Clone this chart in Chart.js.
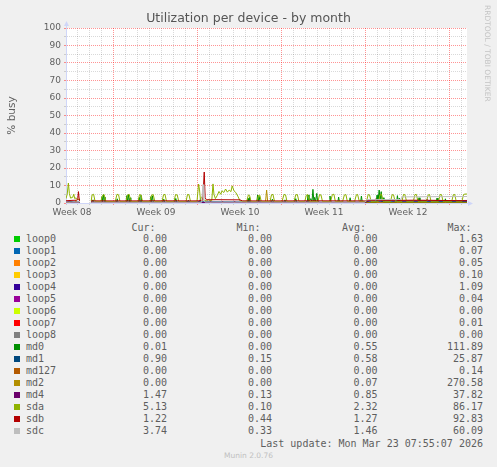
<!DOCTYPE html>
<html><head><meta charset="utf-8">
<script src="https://cdn.jsdelivr.net/npm/chart.js@4.4.1/dist/chart.umd.min.js"></script>
<style>
html,body{margin:0;padding:0;background:#f0f0f0;}
#wrap{position:relative;width:497px;height:467px;overflow:hidden;background:#f0f0f0;}
#c{position:absolute;left:0;top:0;}
.t{position:absolute;font-family:"DejaVu Sans Mono",monospace;font-size:10px;color:#5e5e5e;line-height:12px;white-space:pre;}
.sw{position:absolute;width:6px;height:6px;}
#rrd{position:absolute;left:483px;top:5px;writing-mode:vertical-rl;font-family:"DejaVu Sans",sans-serif;font-size:7.5px;color:#c4c4c4;line-height:9px;white-space:nowrap;}
#foot{position:absolute;left:0;width:497px;text-align:center;top:451px;font-family:"DejaVu Sans",sans-serif;font-size:7.5px;line-height:10px;color:#c0c0c0;}
</style></head><body>
<div id="wrap">
<canvas id="c" width="497" height="222"></canvas>
<div id="rrd">RRDTOOL / TOBI OETIKER</div>
<div id="foot">Munin 2.0.76</div>
</div>
<script>
// ---- text ----
const chartTitle = 'Utilization per device - by month';
const yTitle = '% busy';
const lastUpdate = 'Last update: Mon Mar 23 07:55:07 2026';
const statHeaders = ['Cur:', 'Min:', 'Avg:', 'Max:'];

// ---- x axis (days from left edge of graph) ----
const weekLabels = ['Week 08', 'Week 09', 'Week 10', 'Week 11', 'Week 12'];
const weekLabelDays = [0.5, 7.5, 14.5, 21.5, 28.5];
const weekStartDays = [4, 11, 18, 25, 32];
const dayTicks = [0,1,2,3,4,5,6,7,8,9,10,11,12,13,14,15,16,17,18,19,20,21,22,23,24,25,26,27,28,29,30,31,32,33];
const xMax = 33.42;
const yTicks = [0,5,10,15,20,25,30,35,40,45,50,55,60,65,70,75,80,85,90,95,100];

// ---- series ----
const seriesNames = ['loop0','loop1','loop2','loop3','loop4','loop5','loop6','loop7','loop8','md0','md1','md127','md2','md4','sda','sdb','sdc'];
const seriesColors = ['#00CC00','#0066B3','#FF8000','#FFCC00','#330099','#990099','#CCFF00','#FF0000','#808080','#008F00','#00487D','#B35A00','#B38F00','#6B006B','#8FB300','#B30000','#BEBEBE'];
const curVals = ['0.00','0.00','0.00','0.00','0.00','0.00','0.00','0.00','0.00','0.01','0.90','0.00','0.00','1.47','5.13','1.22','3.74'];
const minVals = ['0.00','0.00','0.00','0.00','0.00','0.00','0.00','0.00','0.00','0.00','0.15','0.00','0.00','0.13','0.10','0.44','0.33'];
const avgVals = ['0.00','0.00','0.00','0.00','0.00','0.00','0.00','0.00','0.00','0.55','0.58','0.00','0.07','0.85','2.32','1.27','1.46'];
const maxVals = ['1.63','0.07','0.05','0.10','1.09','0.04','0.00','0.01','0.00','111.89','25.87','0.14','270.58','37.82','86.17','92.83','60.09'];

// [day, % busy]; null = no data
const zeroLine = [[0,0],[1.12,0],[1.13,null],[2.1,0],[33.42,0]];

const md0 = [[0,0.3],[0.4,0.8],[0.6,0.3],[1.12,0.3],[1.13,null],
 [2.1,0.2],[2.25,1.8],[2.35,0.2],
 [2.95,0.2],[3.0,3.6],[3.05,0.6],[3.12,4.8],[3.18,1.0],[3.25,3.4],[3.32,0.2],
 [4.2,0.2],[4.27,2.4],[4.34,0.2],
 [5.0,0.2],[5.07,4.2],[5.13,1.0],[5.2,4.9],[5.27,0.6],[5.34,3.0],[5.4,0.2],
 [6.05,0.2],[6.12,3.2],[6.18,0.6],[6.25,4.4],[6.32,0.2],
 [7.0,0.2],[7.07,3.6],[7.13,0.6],[7.2,4.1],[7.28,0.2],
 [8.05,0.2],[8.15,2.2],[8.25,0.2],
 [9.05,0.2],[9.15,2.6],[9.25,0.2],
 [10.1,0.2],[10.2,1.6],[10.3,0.2],
 [11.1,0.2],[11.2,2.0],[11.3,0.2],
 [15.1,0.2],[15.17,2.6],[15.24,0.6],[15.3,3.2],[15.38,0.2],
 [15.9,0.2],[15.97,4.6],[16.04,0.8],[16.1,3.8],[16.18,0.2],
 [17.1,0.2],[17.2,2.2],[17.3,0.2],
 [18.15,0.2],[18.25,1.8],[18.35,0.2],
 [19.05,0.2],[19.15,2.5],[19.25,0.2],
 [20.1,0.2],[20.17,4.6],[20.25,0.8],[20.4,2.5],[20.5,0.6],[20.58,7.8],[20.66,1.0],[20.72,3.2],[20.8,0.6],[20.9,5.5],[20.98,0.2],
 [21.95,0.2],[22.0,4.0],[22.08,0.2],
 [22.65,0.2],[22.72,3.4],[22.8,0.2],
 [23.6,0.2],[23.68,3.0],[23.76,0.2],
 [24.55,0.2],[24.62,4.0],[24.7,0.2],
 [25.85,0.2],[25.92,4.5],[26.0,1.0],[26.1,7.4],[26.18,2.0],[26.27,6.5],[26.35,0.5],[26.42,3.0],[26.5,0.2],
 [27.55,0.2],[27.62,4.2],[27.7,0.5],[27.78,2.8],[27.85,0.2],
 [29.35,0.2],[29.42,3.0],[29.5,0.2],
 [30.85,0.2],[30.92,2.8],[31.0,0.2],
 [31.55,0.2],[31.62,2.4],[31.7,0.2],
 [33.42,0.2]];

const md1 = [[0,0.5],[0.5,0.6],[1.12,0.5],[1.13,null],[2.1,0.5],[8,0.5],[11.5,0.7],[14.5,0.6],[20,0.5],[24.9,0.5],[25.1,1.0],[29,0.95],[33.42,0.9]];

const md2 = [[0,0],[0.75,0],[0.82,1.5],[0.9,0],[1.12,0],[1.13,null],[2.1,0],[16.62,0],[16.72,7.4],[16.82,0],[33.42,0]];

const md4 = [[0,0.4],[0.3,1.0],[0.4,0.4],[1.12,0.4],[1.13,null],
 [2.1,0.3],[2.15,1.1],[2.22,0.3],[3.0,0.3],[3.05,1.0],[3.12,0.3],
 [4.1,0.3],[4.15,1.1],[4.22,0.3],[5.0,0.3],[5.05,1.0],[5.12,0.3],
 [6.0,0.3],[6.05,1.1],[6.12,0.3],[7.0,0.3],[7.05,1.0],[7.12,0.3],
 [8.0,0.3],[8.05,1.1],[8.12,0.3],[9.0,0.3],[9.05,1.0],[9.12,0.3],
 [10.0,0.3],[10.05,1.1],[10.12,0.3],[11.0,0.3],[11.05,1.0],[11.12,0.3],
 [12.0,0.3],[12.05,1.1],[12.12,0.3],[13.0,0.3],[13.05,1.0],[13.12,0.3],
 [14.0,0.3],[14.05,1.1],[14.12,0.3],[15.0,0.3],[15.05,1.0],[15.12,0.3],
 [16.0,0.3],[16.05,1.1],[16.12,0.3],[17.0,0.3],[17.05,1.0],[17.12,0.3],
 [18.0,0.3],[18.05,1.1],[18.12,0.3],[19.0,0.3],[19.05,1.0],[19.12,0.3],
 [20.0,0.3],[20.05,1.1],[20.12,0.3],[21.0,0.3],[21.05,1.0],[21.12,0.3],
 [22.0,0.3],[22.05,1.1],[22.12,0.3],[23.0,0.3],[23.05,1.0],[23.12,0.3],
 [24.0,0.3],[24.05,1.1],[24.12,0.3],
 [25.0,0.5],[25.3,1.3],[27.0,1.2],[27.1,2.0],[27.2,1.2],[30.0,1.3],[30.1,2.1],[30.2,1.3],[33.42,1.45]];

const sda = [[0,2.5],[0.1,5.0],[0.2,11.4],[0.28,5.5],[0.38,2.8],[0.55,3.2],[0.65,5.0],[0.72,2.6],[0.85,2.9],[1.0,1.8],[1.12,2.4],[1.13,null],
 [2.1,1.0],[2.17,4.6],[2.3,5.0],[2.42,1.0],
 [2.9,0.9],[3.05,4.4],[3.18,4.8],[3.32,0.9],
 [4.1,0.8],[4.25,5.0],[4.38,4.7],[4.5,0.8],
 [5.0,0.8],[5.13,4.6],[5.27,4.9],[5.4,0.8],
 [6.0,0.8],[6.13,4.8],[6.25,4.6],[6.38,0.8],
 [7.0,0.8],[7.13,4.5],[7.27,4.8],[7.4,0.8],
 [8.0,0.8],[8.13,4.7],[8.25,4.9],[8.38,0.8],
 [9.0,0.8],[9.13,4.8],[9.27,4.6],[9.4,0.8],
 [10.0,0.8],[10.13,4.9],[10.25,4.7],[10.38,0.8],
 [10.92,1.0],[11.05,10.8],[11.13,7.5],[11.2,2.0],[11.3,3.5],[11.42,2.0],[11.55,1.5],[11.7,1.2],[11.85,2.0],[12.0,1.5],
 [12.15,1.5],[12.25,10.9],[12.33,5.0],[12.45,2.5],[12.6,4.2],[12.75,6.6],[12.9,5.0],[13.0,7.0],[13.15,6.0],[13.3,8.0],[13.45,6.2],[13.6,7.4],[13.75,6.5],[13.85,9.8],[14.0,7.0],[14.15,6.0],[14.35,3.5],[14.5,1.2],
 [15.05,0.8],[15.2,4.6],[15.3,4.3],[15.42,0.8],
 [15.9,0.8],[16.03,4.2],[16.15,4.5],[16.28,0.8],
 [17.0,0.8],[17.13,4.7],[17.25,4.9],[17.38,0.8],
 [18.0,0.8],[18.17,4.9],[18.3,4.6],[18.42,0.8],
 [19.0,0.8],[19.15,4.7],[19.28,4.8],[19.42,0.8],
 [19.9,0.8],[20.03,4.5],[20.15,4.8],[20.3,0.8],
 [21.0,0.8],[21.13,4.8],[21.25,4.6],[21.38,0.8],
 [22.05,0.8],[22.2,4.8],[22.33,5.0],[22.45,0.8],
 [23.05,0.8],[23.2,4.6],[23.33,4.8],[23.45,0.8],
 [24.05,0.8],[24.2,4.7],[24.3,4.9],[24.45,0.8],
 [25.05,1.0],[25.18,4.8],[25.3,4.6],[25.42,1.0],
 [26.05,1.0],[26.18,4.7],[26.3,5.0],[26.42,1.0],
 [27.05,1.0],[27.18,4.8],[27.3,4.6],[27.42,1.0],
 [28.0,1.0],[28.13,4.9],[28.25,4.7],[28.38,1.0],
 [28.95,1.0],[29.08,4.8],[29.2,4.9],[29.33,1.0],
 [30.05,1.0],[30.18,4.6],[30.3,4.8],[30.42,1.0],
 [31.05,1.0],[31.18,4.9],[31.3,4.7],[31.42,1.0],
 [32.15,1.0],[32.28,4.7],[32.4,4.9],[32.52,1.0],
 [33.0,1.0],[33.13,4.8],[33.25,5.1],[33.42,5.1]];

const sdb = [[0,1.3],[0.5,1.5],[0.9,1.6],[0.98,2.5],[1.04,6.5],[1.1,2.2],[1.12,1.4],[1.13,null],
 [2.1,1.2],[5,1.2],[8,1.25],[11.0,1.2],[11.4,1.6],[11.52,17.7],[11.6,3.0],[11.7,1.8],[12.5,1.9],[14.5,1.8],[14.7,1.2],[18,1.2],[21,1.25],[24.9,1.2],
 [25.1,1.5],[25.75,1.6],[25.82,2.4],[25.9,1.6],[27.0,1.5],[27.45,1.6],[27.52,2.2],[27.6,1.5],[29,1.6],[31,1.5],[33.42,1.25]];

const sdc = [[0,0.5],[1.12,0.5],[1.13,null],[2.1,0.4],[11.3,0.4],[11.42,10.5],[11.48,2.0],[11.58,0.5],[24.9,0.4],[25.05,1.9],[27.9,2.0],[28.0,3.5],[30.0,3.6],[33.42,3.7]];

const seriesData = [zeroLine,zeroLine,zeroLine,zeroLine,zeroLine,zeroLine,zeroLine,zeroLine,zeroLine,md0,md1,zeroLine,md2,md4,sda,sdb,sdc];

// ---- chart ----
const FONT = 'DejaVu Sans';
const TXT = '#5e5e5e';
const MAJOR = 'rgba(255,0,0,0.42)';
const MINOR = 'rgba(0,0,0,0.15)';
const AXIS = '#CFD6F8';

const datasets = seriesNames.map((name, i) => ({
  label: name,
  data: seriesData[i].map(p => ({x: p[0], y: p[1]})),
  borderColor: seriesColors[i],
  backgroundColor: seriesColors[i],
  borderWidth: 1,
  pointRadius: 0,
  tension: 0,
  fill: false,
  spanGaps: false,
  order: seriesNames.length - i
}));

const bgPlugin = {
  id: 'bg',
  beforeDraw(chart) {
    const {ctx, chartArea: a} = chart;
    ctx.save();
    ctx.fillStyle = '#ffffff';
    ctx.fillRect(a.left, a.top, a.right - a.left, a.bottom - a.top);
    ctx.restore();
  }
};
const arrowPlugin = {
  id: 'arrows',
  afterDraw(chart) {
    const {ctx, chartArea: a} = chart;
    const x = Math.round(a.left) + 0.5, y = Math.round(a.bottom) + 0.5;
    ctx.save();
    ctx.strokeStyle = AXIS; ctx.fillStyle = AXIS; ctx.lineWidth = 1;
    ctx.beginPath(); ctx.moveTo(a.right, y); ctx.lineTo(a.right + 2, y); ctx.stroke();
    ctx.beginPath(); ctx.moveTo(a.right + 1, y - 2.5); ctx.lineTo(a.right + 1, y + 2.5); ctx.lineTo(a.right + 6, y); ctx.closePath(); ctx.fill();
    ctx.beginPath(); ctx.moveTo(x, a.top); ctx.lineTo(x, a.top - 2); ctx.stroke();
    ctx.beginPath(); ctx.moveTo(x - 2.5, a.top - 2); ctx.lineTo(x + 2.5, a.top - 2); ctx.lineTo(x, a.top - 7); ctx.closePath(); ctx.fill();
    ctx.restore();
  }
};

const xTickValues = dayTicks.concat(weekLabelDays).sort((a, b) => a - b);

function xGridColor(c) {
  const v = c.tick ? c.tick.value : null;
  if (weekLabelDays.indexOf(v) >= 0) return 'rgba(0,0,0,0)';
  return weekStartDays.indexOf(v) >= 0 ? MAJOR : MINOR;
}
function yGridColor(c) {
  const v = c.tick ? c.tick.value : null;
  return (v !== null && v % 10 === 0) ? MAJOR : MINOR;
}

new Chart(document.getElementById('c').getContext('2d'), {
  type: 'line',
  data: {datasets},
  options: {
    responsive: false,
    animation: false,
    events: [],
    layout: {padding: 0},
    plugins: {
      legend: {display: false},
      tooltip: {enabled: false},
      title: {display: true, text: chartTitle, color: '#555', font: {family: FONT, size: 12.5, weight: 'normal'}, padding: {top: 11, bottom: 2}}
    },
    scales: {
      x: {
        type: 'linear', min: 0, max: xMax,
        afterBuildTicks: s => { s.ticks = xTickValues.map(v => ({value: v})); },
        afterFit: s => { s.height = 19; },
        ticks: {
          autoSkip: false, maxRotation: 0, minRotation: 0, color: TXT, padding: 2,
          font: {family: FONT, size: 9},
          callback: v => { const k = weekLabelDays.indexOf(v); return k >= 0 ? weekLabels[k] : ''; }
        },
        grid: {lineWidth: 1, tickLength: 2, drawTicks: true, color: xGridColor},
        border: {display: true, color: AXIS, width: 1, dash: [1, 1]}
      },
      y: {
        type: 'linear', min: 0, max: 100,
        afterBuildTicks: s => { s.ticks = yTicks.map(v => ({value: v})); },
        afterFit: s => { s.width = 66; },
        ticks: {
          autoSkip: false, color: TXT, padding: 3, font: {family: FONT, size: 9},
          callback: v => (v % 10 === 0 ? String(v) : '')
        },
        grid: {lineWidth: 1, tickLength: 2, drawTicks: true, color: yGridColor},
        border: {display: true, color: AXIS, width: 1, dash: [1, 1]},
        title: {display: true, text: yTitle, color: TXT, font: {family: FONT, size: 10.5}, padding: {top: 6, bottom: 0}}
      },
      yR: {
        type: 'linear', position: 'right', display: true,
        grid: {display: false}, ticks: {display: false}, border: {display: false},
        afterFit: s => { s.width = 30; }
      }
    }
  },
  plugins: [bgPlugin, arrowPlugin]
});

// ---- legend table ----
const wrap = document.getElementById('wrap');
const colRight = [167, 272, 377.5, 483];
function addText(txt, top, opts) {
  const d = document.createElement('div');
  d.className = 't';
  d.textContent = txt;
  d.style.top = top + 'px';
  if (opts.left !== undefined) d.style.left = opts.left + 'px';
  if (opts.right !== undefined) d.style.right = (497 - opts.right) + 'px';
  wrap.appendChild(d);
}
statHeaders.forEach((h, j) => addText(h, 222.3, {left: colRight[j] - 35.5}));
seriesNames.forEach((name, i) => {
  const top = 233.3 + 12 * i;
  const sw = document.createElement('div');
  sw.className = 'sw';
  sw.style.left = '14px';
  sw.style.top = (top + 3) + 'px';
  sw.style.background = seriesColors[i];
  wrap.appendChild(sw);
  addText(name, top, {left: 26});
  [curVals[i], minVals[i], avgVals[i], maxVals[i]].forEach((v, j) => addText(v, top, {right: colRight[j]}));
});
addText(lastUpdate, 437.7, {right: 483});
</script>
</body></html>
